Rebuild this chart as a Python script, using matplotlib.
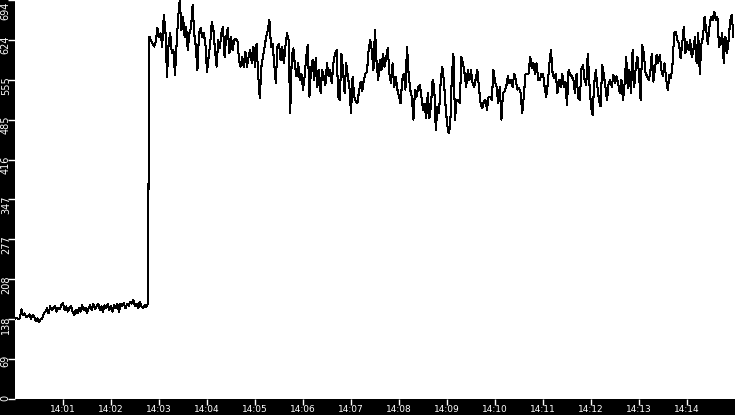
import numpy as np
import pandas as pd
import matplotlib
matplotlib.use("Agg")
import matplotlib.pyplot as plt
import matplotlib.dates as mdates

# samples every 2 s starting 14:00:00
START = "2024-01-01 14:00:00"
STEP_S = 2
Y_MAX = 694

# flat start, before the jump
vals_start = [
    140, 141, 139, 140, 156, 146, 149, 142, 144, 147, 140, 146, 143, 136, 140, 134,
    139, 140, 149, 152, 158, 149, 161, 154, 158, 162, 152, 158, 156, 163, 167, 155,
    161, 152, 158, 161, 152, 146, 155, 149, 158, 152, 163, 155, 159, 150, 158, 163,
    155, 165, 156, 161, 166, 155, 161, 152, 163, 158, 165, 155, 161, 152, 163, 158,
    165, 152, 166, 161, 167, 158, 165, 162, 169, 166, 172, 161, 166, 158, 169, 161,
    158, 163, 160, 166,
]
# 14:02:46 -> 14:05:50
vals_high = [
    630, 624, 618, 613, 621, 645, 630, 636, 613, 668, 642, 560, 618, 636, 601, 607,
    563, 618, 665, 694, 642, 665, 630, 647, 607, 636, 645, 685, 636, 613, 572, 636,
    645, 630, 636, 618, 569, 595, 618, 656, 642, 607, 578, 624, 610, 636, 647, 595,
    630, 645, 601, 630, 607, 624, 627, 624, 590, 578, 595, 578, 604, 578, 595, 607,
    584, 613, 578, 618, 563, 523, 578, 595, 613, 630, 642, 659, 613, 618, 584, 549,
    613, 618, 590, 613, 584, 613, 636, 624, 497,
]
# 14:05:50 -> 14:08:50
vals_mid = [
    595, 610, 578, 561, 584, 555, 566, 538, 561, 595, 616, 526, 572, 590, 555, 593,
    543, 572, 532, 572, 561, 546, 584, 561, 572, 549, 584, 601, 607, 526, 520, 601,
    572, 532, 584, 561, 543, 497, 561, 526, 517, 514, 535, 552, 535, 555, 566, 569,
    607, 624, 607, 572, 642, 584, 555, 590, 572, 601, 578, 595, 610, 566, 549, 584,
    543, 561, 538, 526, 514, 555, 566, 538, 613, 566, 538, 526, 486, 538, 526, 543,
    546, 526, 503, 514, 488, 532, 488, 511, 555, 543,
]
# 14:08:50 -> 14:11:52
vals_dip = [
    468, 508, 497, 549, 578, 555, 514, 480, 462, 474, 561, 601, 486, 520, 520, 514,
    595, 584, 566, 543, 572, 555, 572, 549, 543, 558, 572, 541, 514, 506, 517, 520,
    503, 526, 526, 520, 572, 552, 543, 514, 543, 486, 532, 535, 543, 561, 549, 555,
    543, 566, 555, 538, 541, 532, 497, 526, 564, 566, 566, 595, 575, 584, 566, 584,
    555, 555, 566, 566, 543, 526, 549, 584, 607, 566, 558, 566, 532, 555, 543, 566,
    543, 552, 511, 572, 564, 561, 555, 532, 566, 523, 520,
]
# 14:11:52 -> 14:15
vals_end = [
    574, 581, 555, 546, 601, 549, 509, 494, 549, 572, 543, 520, 509, 581, 564, 543,
    520, 549, 555, 543, 564, 549, 561, 549, 532, 555, 520, 549, 595, 540, 572, 532,
    607, 543, 578, 595, 566, 520, 615, 601, 569, 561, 555, 566, 601, 552, 575, 598,
    584, 598, 572, 561, 584, 555, 538, 564, 558, 584, 636, 639, 624, 618, 593, 618,
    647, 601, 621, 607, 624, 595, 607, 630, 584, 636, 566, 618, 630, 665, 642, 618,
    647, 665, 659, 674, 659, 665, 613, 618, 636, 584, 630, 601, 624, 659, 668, 630,
]

values = np.array(vals_start + vals_high + vals_mid + vals_dip + vals_end, dtype=float)
times = pd.date_range(START, periods=len(values), freq=f"{STEP_S}s")

W, H = 735, 415
fig = plt.figure(figsize=(W / 100, H / 100), dpi=100, facecolor="black")
ax = fig.add_axes([15 / W, 16 / H, 720 / W, 399 / H])
ax.set_facecolor("white")
for s in ax.spines.values():
    s.set_visible(False)

ax.plot(times, values, color="black", lw=0.75, antialiased=False)

t0 = pd.Timestamp(START)
ax.set_xlim(t0, t0 + pd.Timedelta(minutes=15))
ax.set_ylim(0, Y_MAX)

# x ticks every minute
ax.set_xticks([t0 + pd.Timedelta(minutes=m) for m in range(1, 15)])
ax.xaxis.set_major_formatter(mdates.DateFormatter("%H:%M"))
ax.tick_params(axis="x", direction="out", length=4, width=1, color="white",
               labelcolor="white", labelsize=6.5, pad=0.3)

# y ticks at tenths of the max, labels truncated, rotated and drawn by hand
yticks = [Y_MAX * k / 10 for k in range(11)]
ax.set_yticks(yticks)
ax.tick_params(axis="y", direction="out", length=5, width=1, color="white",
               labelleft=False)
for v in yticks:
    off = 2.9 if v < Y_MAX else -1.5
    ax.annotate(str(int(v + 1e-9)), xy=(0, v), xycoords=("axes fraction", "data"),
                xytext=(-6.6, off), textcoords="offset points",
                rotation=90, rotation_mode="anchor", ha="right", va="center",
                color="white", fontsize=7, annotation_clip=False)

fig.savefig("out.png", dpi=100, facecolor="black")
